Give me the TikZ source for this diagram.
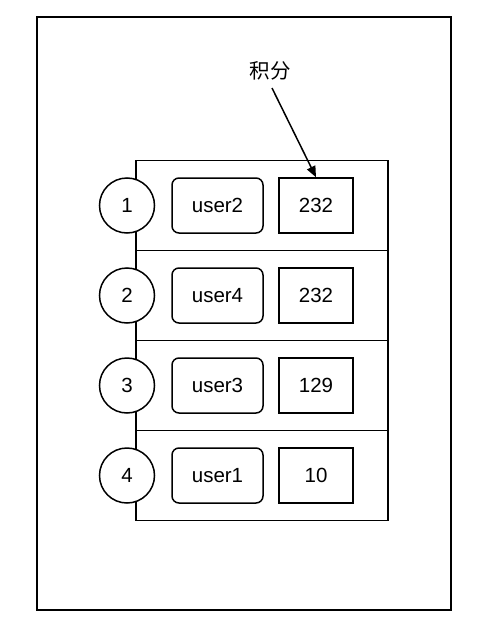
\documentclass[tikz,border=0pt]{standalone}
\usepackage{fontspec}
\setmainfont{Liberation Sans}
\newfontfamily\cjk{Noto Sans CJK SC}
\usetikzlibrary{arrows.meta}
\begin{document}
\begin{tikzpicture}[x=1pt,y=-1pt,
  every node/.style={font=\fontsize{20.5}{24}\selectfont},
  rowbox/.style={draw,line width=1.5pt,minimum width=252pt,minimum height=90pt,inner sep=0pt},
  rank/.style={draw,circle,fill=white,line width=1.5pt,minimum size=55pt,inner sep=0pt},
  userbox/.style={draw,rounded corners=7pt,line width=1.5pt,minimum width=91pt,minimum height=55pt,inner sep=0pt},
  scorebox/.style={draw,line width=1.5pt,minimum width=74pt,minimum height=55pt,inner sep=0pt}]
\useasboundingbox (0,0) rectangle (479,626);
\node[draw,line width=1.8pt,minimum width=414pt,minimum height=593pt,inner sep=0pt] (outer) at (244,313.5) {};
\foreach \i/\u/\s in {1/user2/232,2/user4/232,3/user3/129,4/user1/10}{
  \pgfmathsetmacro{\yc}{205.5+90*(\i-1)}
  \node[rowbox] (row\i) at (262,\yc) {};
  \node[rank] (c\i) at (127,\yc) {\i};
  \node[userbox] (u\i) at (217.5,\yc) {\u};
  \node[scorebox] (s\i) at (316,\yc) {\s};
}
\node (label) at (270,71) {\cjk 积分};
\draw[line width=1.5pt,-{Triangle[length=11pt,width=9pt]}] (272,88) -- (s1.north);
\end{tikzpicture}
\end{document}
